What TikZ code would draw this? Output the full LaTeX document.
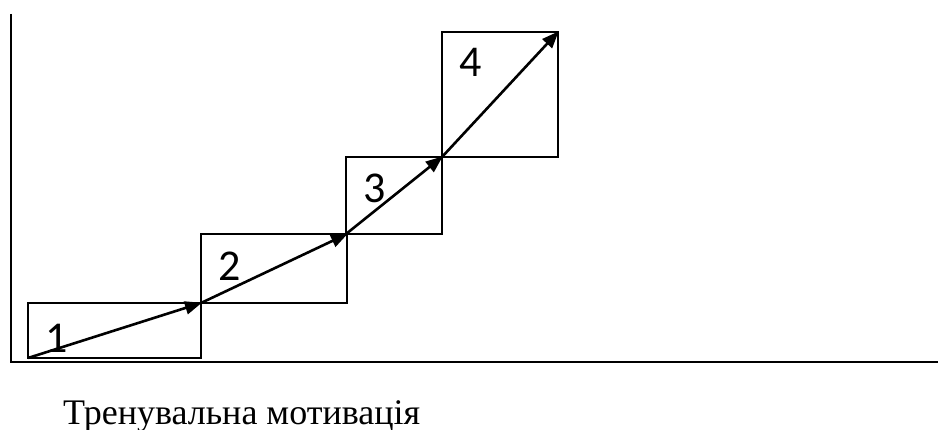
\documentclass[tikz,border=0pt]{standalone}
\usepackage{fontspec}
\setmainfont{Liberation Serif}
\newfontfamily\digitfont{Carlito}
\usetikzlibrary{arrows.meta}
\begin{document}
\begin{tikzpicture}[x=1pt,y=-1pt,
  box/.style={draw, line width=1.5pt, inner sep=0pt, outer sep=0pt, anchor=south west},
  stepnum/.style={font=\digitfont\fontsize{44}{46}\selectfont, anchor=base, inner sep=0pt},
  arr/.style={line width=2.6pt, -{Triangle[length=17pt,width=13pt]}, shorten >=-1pt},
  axis/.style={line width=2.6pt}]
\useasboundingbox (0,0) rectangle (938,430);
% axes
\coordinate (top) at (11,14);
\coordinate (o) at (11,362);
\coordinate (right) at (938,362);
\draw[axis] (top) -- (o) -- (right);
% boxes
\node[box, minimum width=173pt, minimum height=55pt] (b1) at (28,358) {};
\node[box, minimum width=146pt, minimum height=69pt] (b2) at (201,303) {};
\node[box, minimum width=96pt, minimum height=77pt] (b3) at (346,234) {};
\node[box, minimum width=116pt, minimum height=125pt] (b4) at (442,157) {};
% labels
\node[stepnum] (n1) at (57,353) {1};
\node[stepnum] (n2) at (230,281) {2};
\node[stepnum] (n3) at (375,203) {3};
\node[stepnum] (n4) at (471,77) {4};
% arrows
\draw[arr] (b1.south west) -- (b1.north east);
\draw[arr] (b2.south west) -- (b2.north east);
\draw[arr] (b3.south west) -- (b3.north east);
\draw[arr] (b4.south west) -- (b4.north east);
% caption
\node[anchor=base west, inner sep=0pt, font=\fontsize{36}{38}\selectfont] (cap) at (63,425) {Тренувальна мотивація};
\end{tikzpicture}
\end{document}
